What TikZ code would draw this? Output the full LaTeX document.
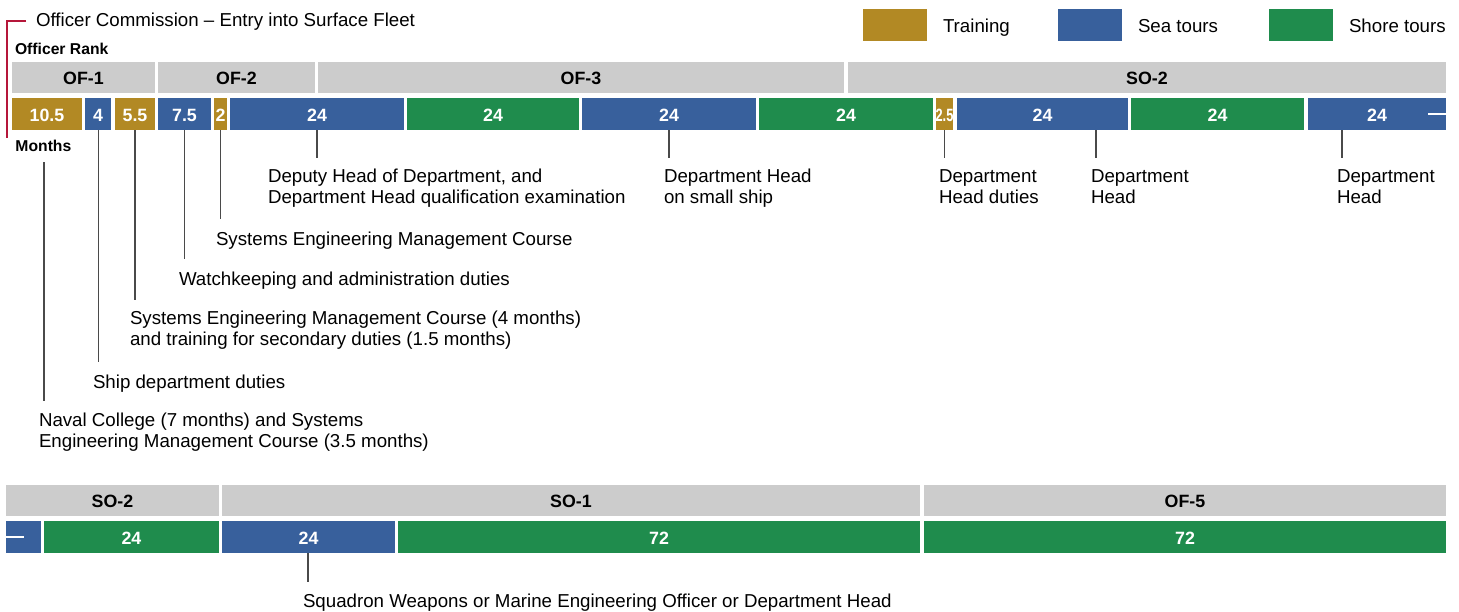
\documentclass[tikz,border=0pt]{standalone}
\usepackage{fontspec}
\setmainfont{Liberation Sans}
\usepackage{graphicx}
\definecolor{train}{HTML}{B28924}
\definecolor{sea}{HTML}{38609C}
\definecolor{shore}{HTML}{1F8C4D}
\definecolor{rankg}{HTML}{CCCCCC}
\definecolor{bracketc}{HTML}{B5173A}
\definecolor{leadc}{HTML}{4A4A4A}
\newcommand\mkblock[7]{%
  \node[#6, minimum width={(#3-#2)*1pt}, minimum height={(#5-#4)*1pt}] (#1) at ({(#2+#3)/2},{(#4+#5)/2}) {#7};}
\tikzset{
  blk/.style={inner sep=0pt, outer sep=0pt, font=\fontsize{17.8}{20}\selectfont\bfseries, text height=14pt, text depth=0pt, anchor=center},
  rank/.style={blk, fill=rankg, text=black},
  tr/.style={blk, fill=train, text=white},
  se/.style={blk, fill=sea, text=white},
  sh/.style={blk, fill=shore, text=white},
  lbl/.style={inner sep=0pt, outer sep=0pt, anchor=north west, align=left, font=\fontsize{18.7}{21}\selectfont, execute at begin node=\strut},
  plain/.style={inner sep=0pt, outer sep=0pt, anchor=base west, font=\fontsize{18.7}{21}\selectfont},
  head/.style={inner sep=0pt, outer sep=0pt, anchor=base west, font=\fontsize{15.7}{18}\selectfont\bfseries},
  leader/.style={draw=leadc, line width=1.5pt},
  cont/.style={draw=white, line width=1.5pt},
  bracket/.style={draw=bracketc, line width=2pt}
}
\begin{document}
\begin{tikzpicture}[x=1pt,y=-1pt]
\useasboundingbox (0,0) rectangle (1459,611);
% legend
\mkblock{legT}{863}{927}{9}{41}{tr}{}
\mkblock{legS}{1058}{1122}{9}{41}{se}{}
\mkblock{legH}{1269}{1333}{9}{41}{sh}{}
\node[plain] (legTt) at (943,32.3) {Training};
\node[plain] (legSt) at (1138,32.3) {Sea tours};
\node[plain] (legHt) at (1349,32.3) {Shore tours};
% heading
\coordinate (brA) at (26,21);
\coordinate (brB) at (7,21);
\coordinate (brC) at (7,138);
\draw[bracket] (brA) -- (brB) -- (brC);
\node[plain] (title) at (36,26.5) {Officer Commission – Entry into Surface Fleet};
\node[head] (rankhd) at (15,54.3) {Officer Rank};
\node[head] (monthhd) at (15.5,151) {Months};
% top rank row
\mkblock{r1}{12}{155}{62}{93}{rank}{OF-1}
\mkblock{r2}{158}{315}{62}{93}{rank}{OF-2}
\mkblock{r3}{318}{844}{62}{93}{rank}{OF-3}
\mkblock{r4}{848}{1446}{62}{93}{rank}{SO-2}
% top months row
\mkblock{m1}{12}{82}{98}{130}{tr}{10.5}
\mkblock{m2}{85}{111}{98}{130}{se}{4}
\mkblock{m3}{115}{155}{98}{130}{tr}{5.5}
\mkblock{m4}{158}{211}{98}{130}{se}{7.5}
\mkblock{m5}{214}{227}{98}{130}{tr}{2}
\mkblock{m6}{230}{404}{98}{130}{se}{24}
\mkblock{m7}{407}{579}{98}{130}{sh}{24}
\mkblock{m8}{582}{756}{98}{130}{se}{24}
\mkblock{m9}{759}{933}{98}{130}{sh}{24}
\mkblock{m10}{936}{953}{98}{130}{tr}{\scalebox{0.72}[1]{2.5}}
\mkblock{m11}{957}{1128}{98}{130}{se}{24}
\mkblock{m12}{1131}{1304}{98}{130}{sh}{24}
\mkblock{m13}{1308}{1446}{98}{130}{se}{24}
\coordinate (cont1) at (1428,114);
\draw[cont] (cont1) -- (m13.east);
% bottom rank row
\mkblock{s1}{6}{219}{485}{516}{rank}{SO-2}
\mkblock{s2}{222}{920}{485}{516}{rank}{SO-1}
\mkblock{s3}{924}{1446}{485}{516}{rank}{OF-5}
% bottom months row
\mkblock{n1}{6}{41}{521}{553}{se}{}
\mkblock{n2}{44}{219}{521}{553}{sh}{24}
\mkblock{n3}{222}{395}{521}{553}{se}{24}
\mkblock{n4}{398}{920}{521}{553}{sh}{72}
\mkblock{n5}{924}{1446}{521}{553}{sh}{72}
\coordinate (cont2) at (24,537);
\draw[cont] (n1.west) -- (cont2);
% labels
\node[lbl] (l1) at (39,413.3) {Naval College (7 months) and Systems\\Engineering Management Course (3.5 months)};
\node[lbl] (l2) at (93,373.3) {Ship department duties};
\node[lbl] (l3) at (130,311.3) {Systems Engineering Management Course (4 months)\\and training for secondary duties (1.5 months)};
\node[lbl] (l4) at (179,270.3) {Watchkeeping and administration duties};
\node[lbl] (l5) at (216,230.3) {Systems Engineering Management Course};
\node[lbl] (l6) at (268,169.3) {Deputy Head of Department, and\\Department Head qualification examination};
\node[lbl] (l7) at (664,169.3) {Department Head\\on small ship};
\node[lbl] (l8) at (939,169.3) {Department\\Head duties};
\node[lbl] (l9) at (1091,169.3) {Department\\Head};
\node[lbl] (l10) at (1337,169.3) {Department\\Head};
\node[lbl] (l11) at (303,592.3) {Squadron Weapons or Marine Engineering Officer or Department Head};
% leaders
\coordinate (a1) at (44,162);   \coordinate (e1) at (44,401);
\coordinate (e2) at (98.5,362);
\coordinate (e3) at (135,300);
\coordinate (e4) at (184.5,259);
\coordinate (e5) at (220.5,219);
\coordinate (e6) at (317,158);
\coordinate (e7) at (669,158);
\coordinate (e8) at (944.5,158);
\coordinate (e9) at (1096,158);
\coordinate (e10) at (1342,158);
\coordinate (e11) at (308,582);
\draw[leader] (a1) -- (e1);
\draw[leader] (m2.south -| e2) -- (e2);
\draw[leader] (m3.south -| e3) -- (e3);
\draw[leader] (m4.south -| e4) -- (e4);
\draw[leader] (m5.south -| e5) -- (e5);
\draw[leader] (m6.south -| e6) -- (e6);
\draw[leader] (m8.south -| e7) -- (e7);
\draw[leader] (m10.south -| e8) -- (e8);
\draw[leader] (m11.south -| e9) -- (e9);
\draw[leader] (m13.south -| e10) -- (e10);
\draw[leader] (n3.south -| e11) -- (e11);
\end{tikzpicture}
\end{document}
